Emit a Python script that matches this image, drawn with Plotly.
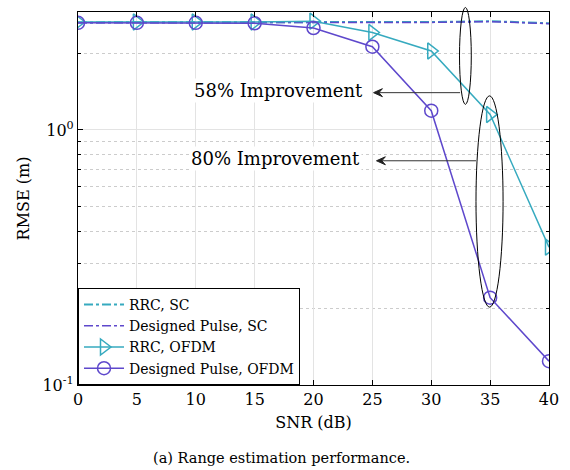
import math
import plotly.graph_objects as go

# SNR sweep and RMSE results
snr_db = [0, 5, 10, 15, 20, 25, 30, 35, 40]
rmse_rrc_sc = [2.64, 2.64, 2.64, 2.64, 2.64, 2.64, 2.65, 2.67, 2.62]
rmse_designed_sc = [2.63, 2.63, 2.63, 2.63, 2.63, 2.63, 2.64, 2.66, 2.61]
rmse_rrc_ofdm = [2.65, 2.65, 2.65, 2.65, 2.67, 2.41, 2.04, 1.15, 0.347]
rmse_designed_ofdm = [2.63, 2.63, 2.63, 2.62, 2.51, 2.12, 1.19, 0.220, 0.124]

x_ticks = [0, 5, 10, 15, 20, 25, 30, 35, 40]
y_ticks = [0.1, 1]
y_tick_text = ["10<sup>-1</sup>", "10<sup>0</sup>"]
y_minor = [0.2, 0.3, 0.4, 0.5, 0.6, 0.7, 0.8, 0.9, 2, 3]

TEAL = "#36AABF"
PURPLE = "#5E48CC"
FONT = "DejaVu Serif"

X_RANGE = [0, 40]
Y_RANGE = [-1, math.log10(2.9)]

# plot area size in pixels (figure minus margins)
W, H = 570, 470
ML, MR, MT, MB = 78, 14, 11, 85
PW, PH = W - ML - MR, H - MT - MB


def px_(x):
    return (x - X_RANGE[0]) / (X_RANGE[1] - X_RANGE[0])


def py_(y):
    return (math.log10(y) - Y_RANGE[0]) / (Y_RANGE[1] - Y_RANGE[0])


fig = go.Figure()
fig.add_trace(go.Scatter(
    x=snr_db, y=rmse_rrc_sc, name="RRC, SC", mode="lines",
    line=dict(color=TEAL, width=2, dash="dashdot")))
fig.add_trace(go.Scatter(
    x=snr_db, y=rmse_designed_sc, name="Designed Pulse, SC", mode="lines",
    line=dict(color=PURPLE, width=1.5, dash="dashdot")))
fig.add_trace(go.Scatter(
    x=snr_db, y=rmse_rrc_ofdm, name="RRC, OFDM", mode="lines+markers",
    line=dict(color=TEAL, width=1.5),
    marker=dict(symbol="triangle-right-open", size=14, color=TEAL,
                line=dict(width=1.5, color=TEAL))))
fig.add_trace(go.Scatter(
    x=snr_db, y=rmse_designed_ofdm, name="Designed Pulse, OFDM", mode="lines+markers",
    line=dict(color=PURPLE, width=1.5),
    marker=dict(symbol="circle-open", size=13, color=PURPLE,
                line=dict(width=1.5, color=PURPLE))))

# Ellipses marking the gap at 35 dB (paper coords so they can overhang the frame)
ellipses = [
    (32.4, 33.4, 1.26, 3.02),
    (33.8, 36.1, 0.202, 1.36),
]
for x0, x1, y0, y1 in ellipses:
    fig.add_shape(type="circle", xref="paper", yref="paper",
                  x0=px_(x0), x1=px_(x1), y0=py_(y0), y1=py_(y1),
                  line=dict(color="black", width=1))

# Leftward arrows from the ellipses to the improvement labels
arrows = [
    (25.1, 32.45, 1.40),
    (25.35, 33.8, 0.757),
]
head_len, head_half = 9 / PW, 4 / PH
for head_x, tail_x, yv in arrows:
    hx, tx, yy = px_(head_x), px_(tail_x), py_(yv)
    fig.add_shape(type="line", xref="paper", yref="paper",
                  x0=tx, x1=hx + head_len * 0.6, y0=yy, y1=yy,
                  line=dict(color="#333333", width=1))
    path = (f"M {hx} {yy} L {hx + head_len} {yy + head_half} "
            f"L {hx + head_len * 0.6} {yy} L {hx + head_len} {yy - head_half} Z")
    fig.add_shape(type="path", xref="paper", yref="paper", path=path,
                  fillcolor="#222222", line=dict(color="#222222", width=1))

labels = [("58% Improvement", 17.0, 1.43), ("80% Improvement", 16.8, 0.77)]
for txt, xv, yv in labels:
    fig.add_annotation(x=xv, y=math.log10(yv), xref="x", yref="y", text=txt,
                       showarrow=False, font=dict(family=FONT, size=18, color="black"),
                       bgcolor="white")

# Caption centred on the whole figure
fig.add_annotation(x=(W / 2 - ML) / PW, y=-0.197, xref="paper", yref="paper",
                   xanchor="center", yanchor="middle", showarrow=False,
                   text="(a) Range estimation performance.",
                   font=dict(family=FONT, size=14.5, color="black"))

fig.update_xaxes(
    range=X_RANGE, tickvals=x_ticks, showgrid=True, gridcolor="#e3e3e3", gridwidth=1,
    showline=True, linecolor="black", linewidth=1.2, mirror="ticks",
    ticks="inside", ticklen=5, tickcolor="black",
    tickfont=dict(family=FONT, size=16, color="black"),
    title=dict(text="SNR (dB)", font=dict(family=FONT, size=16, color="black"), standoff=8),
    zeroline=False)
fig.update_yaxes(
    type="log", range=Y_RANGE, tickvals=y_ticks, ticktext=y_tick_text,
    showgrid=True, gridcolor="#e3e3e3", gridwidth=1,
    showline=True, linecolor="black", linewidth=1.2, mirror="ticks",
    ticks="inside", ticklen=5, tickcolor="black",
    tickfont=dict(family=FONT, size=16, color="black"),
    minor=dict(tickvals=y_minor, ticks="inside", ticklen=3, tickcolor="black",
               showgrid=True, gridcolor="#cccccc", griddash="dot", gridwidth=1),
    title=dict(text="RMSE (m)", font=dict(family=FONT, size=16, color="black"), standoff=8),
    zeroline=False)

fig.update_layout(
    width=W, height=H,
    margin=dict(l=ML, r=MR, t=MT, b=MB),
    paper_bgcolor="white", plot_bgcolor="white",
    showlegend=True,
    legend=dict(x=0, y=0, xanchor="left", yanchor="bottom",
                bgcolor="white", bordercolor="black", borderwidth=1,
                font=dict(family=FONT, size=14, color="black"),
                tracegroupgap=0, itemwidth=40),
    font=dict(family=FONT, color="black"),
)

fig.write_html("out.html")
